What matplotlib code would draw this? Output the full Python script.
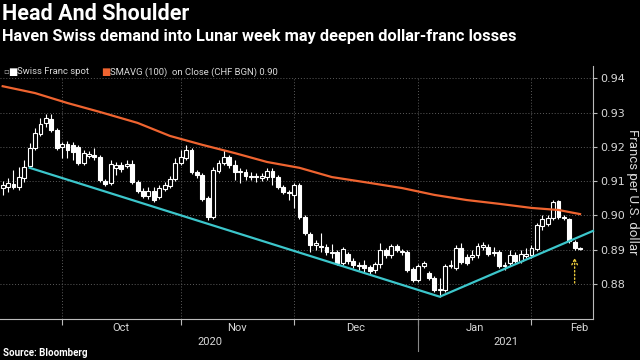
import matplotlib
matplotlib.use("Agg")
import matplotlib.pyplot as plt
import matplotlib.transforms as mtransforms
import numpy as np
import pandas as pd

# USD/CHF daily candles, one per weekday from 16 Sep 2020
opens = [0.9080, 0.9083, 0.9092, 0.9083, 0.9109, 0.9144, 0.9197, 0.9238, 0.9270, 0.9281,
         0.9249, 0.9200, 0.9208, 0.9206, 0.9200, 0.9153, 0.9173, 0.9176, 0.9171, 0.9101,
         0.9095, 0.9139, 0.9147, 0.9144, 0.9150, 0.9098, 0.9071, 0.9057, 0.9071, 0.9054,
         0.9077, 0.9086, 0.9106, 0.9153, 0.9168, 0.9191, 0.9127, 0.9118, 0.9051, 0.8996,
         0.9130, 0.9153, 0.9171, 0.9147, 0.9127, 0.9127, 0.9115, 0.9112, 0.9109, 0.9112,
         0.9130, 0.9112, 0.9083, 0.9069, 0.9060, 0.9089, 0.8996, 0.8946, 0.8914, 0.8911,
         0.8908, 0.8894, 0.8894, 0.8862, 0.8888, 0.8867, 0.8856, 0.8856, 0.8850, 0.8841,
         0.8859, 0.8899, 0.8885, 0.8911, 0.8897, 0.8894, 0.8844, 0.8812, 0.8853, 0.8832,
         0.8818, 0.8783, 0.8783, 0.8853, 0.8847, 0.8905, 0.8879, 0.8879, 0.8885, 0.8908,
         0.8908, 0.8891, 0.8894, 0.8853, 0.8862, 0.8885, 0.8867, 0.8882, 0.8885, 0.8902,
         0.8969, 0.8975, 0.8993, 0.9042, 0.8996, 0.8990, 0.8923, 0.8905]
highs = [0.9101, 0.9109, 0.9133, 0.9141, 0.9162, 0.9211, 0.9255, 0.9284, 0.9296, 0.9296,
         0.9255, 0.9214, 0.9217, 0.9214, 0.9206, 0.9191, 0.9188, 0.9197, 0.9176, 0.9106,
         0.9162, 0.9156, 0.9156, 0.9162, 0.9162, 0.9104, 0.9080, 0.9083, 0.9083, 0.9089,
         0.9098, 0.9115, 0.9168, 0.9191, 0.9206, 0.9197, 0.9133, 0.9124, 0.9057, 0.9141,
         0.9162, 0.9191, 0.9176, 0.9162, 0.9139, 0.9136, 0.9127, 0.9124, 0.9124, 0.9139,
         0.9139, 0.9118, 0.9089, 0.9074, 0.9095, 0.9095, 0.9001, 0.8952, 0.8929, 0.8949,
         0.8917, 0.8917, 0.8899, 0.8908, 0.8894, 0.8876, 0.8864, 0.8870, 0.8856, 0.8864,
         0.8920, 0.8905, 0.8917, 0.8917, 0.8902, 0.8899, 0.8850, 0.8859, 0.8867, 0.8838,
         0.8824, 0.8818, 0.8859, 0.8870, 0.8914, 0.8920, 0.8888, 0.8899, 0.8920, 0.8923,
         0.8917, 0.8908, 0.8899, 0.8864, 0.8899, 0.8894, 0.8899, 0.8905, 0.8914, 0.8978,
         0.9001, 0.9001, 0.9045, 0.9045, 0.9001, 0.8993, 0.8929, 0.8908]
lows = [0.9060, 0.9069, 0.9077, 0.9074, 0.9098, 0.9139, 0.9191, 0.9232, 0.9258, 0.9243,
        0.9191, 0.9168, 0.9168, 0.9162, 0.9147, 0.9147, 0.9168, 0.9162, 0.9098, 0.9086,
        0.9089, 0.9118, 0.9127, 0.9139, 0.9092, 0.9066, 0.9051, 0.9048, 0.9039, 0.9048,
        0.9071, 0.9080, 0.9101, 0.9147, 0.9162, 0.9121, 0.9109, 0.9042, 0.8987, 0.8990,
        0.9124, 0.9147, 0.9139, 0.9104, 0.9095, 0.9104, 0.9104, 0.9098, 0.9101, 0.9104,
        0.9089, 0.9077, 0.9063, 0.9045, 0.9022, 0.8990, 0.8943, 0.8894, 0.8899, 0.8894,
        0.8885, 0.8876, 0.8856, 0.8856, 0.8859, 0.8847, 0.8841, 0.8835, 0.8830, 0.8832,
        0.8847, 0.8876, 0.8876, 0.8894, 0.8885, 0.8835, 0.8806, 0.8806, 0.8847, 0.8812,
        0.8777, 0.8763, 0.8777, 0.8847, 0.8841, 0.8859, 0.8856, 0.8870, 0.8876, 0.8899,
        0.8882, 0.8882, 0.8847, 0.8841, 0.8853, 0.8862, 0.8862, 0.8876, 0.8876, 0.8897,
        0.8958, 0.8969, 0.8987, 0.8990, 0.8987, 0.8920, 0.8899, 0.8899]
closes = [0.9089, 0.9095, 0.9083, 0.9112, 0.9141, 0.9197, 0.9241, 0.9267, 0.9284, 0.9249,
          0.9197, 0.9208, 0.9191, 0.9185, 0.9153, 0.9182, 0.9179, 0.9171, 0.9104, 0.9092,
          0.9150, 0.9147, 0.9136, 0.9150, 0.9098, 0.9071, 0.9057, 0.9071, 0.9045, 0.9080,
          0.9089, 0.9106, 0.9153, 0.9171, 0.9191, 0.9127, 0.9118, 0.9048, 0.8996, 0.9133,
          0.9153, 0.9171, 0.9147, 0.9127, 0.9130, 0.9115, 0.9112, 0.9115, 0.9115, 0.9130,
          0.9112, 0.9083, 0.9069, 0.9066, 0.9089, 0.8996, 0.8949, 0.8914, 0.8920, 0.8908,
          0.8894, 0.8891, 0.8862, 0.8902, 0.8867, 0.8856, 0.8853, 0.8847, 0.8838, 0.8859,
          0.8899, 0.8885, 0.8911, 0.8899, 0.8894, 0.8841, 0.8812, 0.8853, 0.8862, 0.8818,
          0.8783, 0.8786, 0.8853, 0.8856, 0.8905, 0.8864, 0.8862, 0.8885, 0.8911, 0.8914,
          0.8888, 0.8894, 0.8853, 0.8856, 0.8885, 0.8867, 0.8888, 0.8888, 0.8905, 0.8972,
          0.8990, 0.8993, 0.9039, 0.8996, 0.8993, 0.8926, 0.8905, 0.8902]

# 100-day simple moving average
sma_idx = [0, 6, 12, 18, 25, 31, 37, 43, 49, 55, 61, 68, 74, 80, 86, 92, 98, 103, 107]
sma_val = [0.9377, 0.9357, 0.9328, 0.9302, 0.9270, 0.9232, 0.9206, 0.9182, 0.9156, 0.9139,
           0.9112, 0.9095, 0.9080, 0.9060, 0.9045, 0.9034, 0.9022, 0.9016, 0.9004]

# head-and-shoulders neckline drawn on the chart
neck_idx = [5, 81, 109.4]
neck_val = [0.9139, 0.8763, 0.8955]

# yellow arrow under the last candles
arrow_idx = 106
arrow_from, arrow_to = 0.8803, 0.8877

y_ticks = [0.88, 0.89, 0.90, 0.91, 0.92, 0.93, 0.94]

dates = pd.bdate_range("2020-09-16", periods=len(opens))
x_max = 109.4

grid_col = "#5c5c5c"
txt_col = "#d9d9d9"

fig = plt.figure(figsize=(6.4, 3.6), dpi=100, facecolor="black")
ax = fig.add_axes([0, 1 - 319 / 360, 593 / 640, (319 - 66) / 360])
ax.set_facecolor("black")
ax.set_xlim(-0.5, x_max)
ax.set_ylim(0.8698, 0.9436)

o = np.array(opens)
h = np.array(highs)
l = np.array(lows)
c = np.array(closes)
idx = np.arange(len(o))
up = c >= o

# candles: hollow = up day, filled = down day
ax.vlines(idx, l, h, color="white", lw=0.8, zorder=3)
ax.bar(idx[up], (c - o)[up], bottom=o[up], width=0.72,
       facecolor="black", edgecolor="white", lw=0.8, zorder=4)
ax.bar(idx[~up], (o - c)[~up], bottom=c[~up], width=0.72,
       facecolor="white", edgecolor="white", lw=0.8, zorder=4)

ax.plot(sma_idx, sma_val, color="#ef6430", lw=1.6, zorder=5)
ax.plot(neck_idx, neck_val, color="#3cc6cb", lw=1.6, zorder=5, clip_on=False)

ax.annotate("", xy=(arrow_idx, arrow_to), xytext=(arrow_idx, arrow_from),
            arrowprops=dict(arrowstyle="->", color="#e8c83c", lw=1.0,
                            linestyle=":", shrinkA=0, shrinkB=0), zorder=6)

# month boundaries
month_start = [i for i in range(1, len(dates)) if dates[i].month != dates[i - 1].month]
ax.vlines(month_start, 0.8698, 0.9405, colors=grid_col, linestyles=(0, (1, 2)),
          lw=0.7, zorder=1)

# right axis
ax.yaxis.tick_right()
ax.set_yticks(y_ticks)
ax.set_yticklabels([f"{v:.2f}" for v in y_ticks])
ax.yaxis.grid(True, color=grid_col, ls=(0, (1, 2)), lw=0.7)
ax.set_axisbelow(True)
ax.tick_params(axis="y", colors="#bbbbbb", labelcolor=txt_col, length=3,
               width=0.8, pad=2, labelsize=8)
for s in ["top", "left"]:
    ax.spines[s].set_visible(False)
ax.spines["right"].set_color("#bbbbbb")
ax.spines["bottom"].set_color("#bbbbbb")

# bottom axis: ticks at month starts, labels centred in each month
ax.set_xticks(month_start)
ax.set_xticklabels([])
ax.tick_params(axis="x", colors="#bbbbbb", length=4, width=0.8)
trans = mtransforms.blended_transform_factory(ax.transData, ax.transAxes)
full = pd.bdate_range("2020-09-01", "2021-02-28")
pos = {d: i - full.get_loc(dates[0]) for i, d in enumerate(full)}
for m in month_start:
    d0 = dates[m]
    in_month = [pos[d] for d in full if d.month == d0.month and d.year == d0.year]
    mid = min((in_month[0] + in_month[-1] + 1) / 2, x_max - 2.5)
    ax.text(mid, -0.036, d0.strftime("%b"), transform=trans, ha="center", va="center",
            color=txt_col, fontsize=8, family="Roboto")

year_sep = [i for i in month_start if dates[i].month == 1][0]
ax.plot([year_sep, year_sep], [0, -0.125], transform=trans, color="#888888",
        lw=0.8, clip_on=False)
ax.text(year_sep / 2, -0.09, str(dates[0].year), transform=trans, ha="center",
        va="center", color=txt_col, fontsize=8, family="Roboto")
ax.text((year_sep + x_max) / 2, -0.09, str(dates[-1].year), transform=trans,
        ha="center", va="center", color=txt_col, fontsize=8, family="Roboto")

fig.text(633 / 640, 1 - 192 / 360, "Francs per U.S. dollar", rotation=270,
         ha="center", va="center", color=txt_col, fontsize=9.5, family="Roboto")

# titles, legend, source
fig.text(2 / 640, 1 - 14 / 360, "Head And Shoulder", color="white", fontsize=15.5,
         fontweight="bold", family="Roboto", va="center")
fig.text(2 / 640, 1 - 37 / 360,
         "Haven Swiss demand into Lunar week may deepen dollar-franc losses",
         color="white", fontsize=11.8, fontweight="bold", family="Roboto", va="center")
fig.text(3 / 640, 1 - 72 / 360, "▫", color="#aaaaaa", fontsize=6, va="center",
         family="DejaVu Sans")
fig.text(8 / 640, 1 - 72 / 360, "■", color="white", fontsize=7, va="center",
         family="DejaVu Sans")
fig.text(17 / 640, 1 - 72 / 360, "Swiss Franc spot", color=txt_col, fontsize=6.8,
         va="center", family="Roboto")
fig.text(101 / 640, 1 - 72 / 360, "■", color="#ef6430", fontsize=7, va="center",
         family="DejaVu Sans")
fig.text(110 / 640, 1 - 72 / 360, "SMAVG (100)  on Close (CHF BGN) 0.90", color=txt_col,
         fontsize=6.8, va="center", family="Roboto")
fig.text(3 / 640, 1 - 353 / 360, "Source: Bloomberg", color="white", fontsize=7,
         fontweight="bold", family="Roboto", va="center")

fig.savefig("out.png", dpi=100, facecolor="black")
